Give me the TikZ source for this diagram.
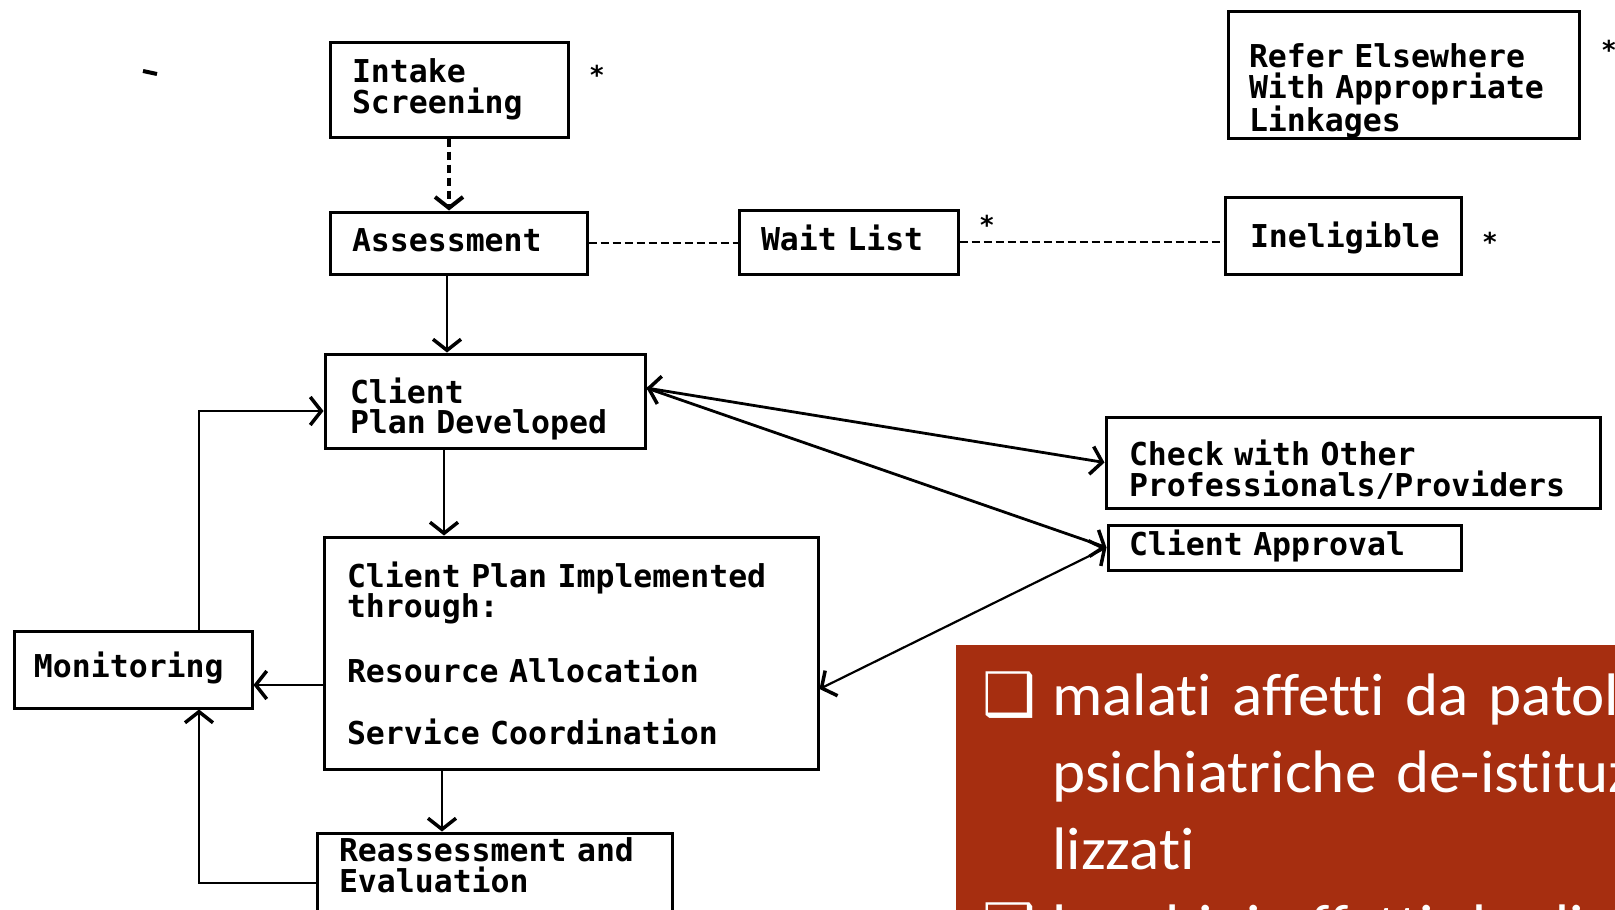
\documentclass[tikz,border=0pt]{standalone}
\usepackage{fontspec}
\usetikzlibrary{arrows.meta}
\newfontfamily\typefont{DejaVu Sans Mono}
\newfontfamily\slidefont[FakeStretch=1.05,Ligatures=NoCommon]{Carlito}
\newfontfamily\symfont{DejaVu Sans}
\definecolor{slidered}{RGB}{166,46,16}
\newcommand\printout{\typefont\bfseries\fontsize{31.5}{30.5}\selectfont}

\begin{document}
\begin{tikzpicture}[x=1pt, y=-1pt,
    box/.style={draw, line width=3pt, inner sep=0pt, align=left, font=\printout},
    oneline/.style={text height=24pt, text depth=8pt},
    link/.style={line width=2.2pt, -{Straight Barb[length=11pt,width=28pt,line width=3.5pt]}},
    twoway/.style={line width=2.8pt,
      {Straight Barb[length=11pt,width=28pt,line width=3.5pt]}-{Straight Barb[length=11pt,width=28pt,line width=3.5pt]}},
    waitline/.style={line width=2.4pt, dash pattern=on 8pt off 4pt},
    astmark/.style={inner sep=0pt, font=\typefont\bfseries\fontsize{26}{26}\selectfont},
    slidetxt/.style={text=white, inner sep=0pt, align=left, text width=900pt,
      font=\slidefont\fontsize{60}{77}\selectfont}]

  \clip (0,0) rectangle (1615,910);

  % The stray mark on the left.
  \draw[line width=4pt] (143,71) -- (157,74);

  % The intake and the assessment.
  \node[box, minimum width=238pt, minimum height=95pt, text width=194pt] (intake) at (449,89.5) {Intake\\Screening};
  \node[box, oneline, minimum width=257pt, minimum height=62pt, text width=213pt] (assess) at (458.5,243) {Assessment};

  % The side outcomes.
  \node[box, oneline, minimum width=219pt, minimum height=64pt, text width=175pt] (wait) at (848.5,242) {Wait List};
  \node[box, text height=24pt, text depth=0pt, minimum width=236pt, minimum height=77pt, text width=186pt] (inelig) at (1343,235.5) {Ineligible};
  \node[box, text height=56pt, minimum width=351pt, minimum height=124pt, text width=309pt] (refer) at (1403.5,75) {Refer Elsewhere\\With Appropriate\\Linkages};

  % The plan.
  \node[box, text height=42pt, minimum width=320pt, minimum height=94pt, text width=270pt] (cpd) at (485,401) {Client\\Plan Developed};
  \node[box, text height=40pt, minimum width=494pt, minimum height=91pt, text width=448pt] (check) at (1353,462.5) {Check with Other\\Professionals/Providers};
  \node[box, oneline, minimum width=353pt, minimum height=45pt, text width=311pt] (approval) at (1284.5,547.5) {Client Approval};
  \node[box, minimum width=494pt, minimum height=232pt, text width=448pt] (cpi) at (571,653) {Client Plan Implemented\\through:\\[31.5pt]Resource Allocation\\[31.5pt]Service Coordination};

  % The loop back.
  \node[box, oneline, minimum width=238pt, minimum height=77pt, text width=198pt] (mon) at (133,669.5) {Monitoring};
  \node[box, text depth=66pt, minimum width=355pt, minimum height=100pt, text width=311pt] (reassess) at (494.5,883) {Reassessment and\\Evaluation};

  % The asterisks.
  \node[astmark] (ast1) at (597,75) {*};
  \node[astmark] (ast2) at (987,225) {*};
  \node[astmark] (ast3) at (1490,242) {*};
  \node[astmark] (ast4) at (1609,50) {*};

  % Connectors.
  \draw[line width=3.5pt, dash pattern=on 8pt off 5pt, -{Straight Barb[length=11pt,width=28pt,line width=4pt]}] (intake.south) -- (intake.south |- assess.north);
  \draw[waitline] (assess.east) -- (assess.east -| wait.west);
  \draw[waitline] (wait.east) -- (wait.east -| inelig.west);
  \draw[link] ([xshift=-11.5pt]assess.south) -- ([xshift=-11.5pt]assess.south |- cpd.north);
  \draw[link] ([xshift=-41pt]cpd.south) -- ([xshift=-41pt]cpd.south |- cpi.north);
  \draw[link] ([xshift=-129pt]cpi.south) -- ([xshift=-129pt]cpi.south |- reassess.north);
  \draw[link] ([yshift=-32pt]cpi.west) -- ([yshift=-32pt]cpi.west -| mon.east);
  \draw[link] ([xshift=66pt]mon.north) |- ([yshift=-10pt]cpd.west);
  \draw[link] (reassess.west) -| ([xshift=66pt]mon.south);
  \draw[twoway] ([yshift=13pt]cpd.east) -- (check.west);
  \draw[link, line width=2.8pt] ([yshift=13pt]cpd.east) -- (approval.west);
  \draw[twoway, line width=2.2pt] (approval.west) -- ([yshift=-36pt]cpi.east);

  % The slide panel.
  \fill[slidered] (956,645) rectangle (1615,910);
  \node[slidetxt, anchor=base west] (items) at (982,715) {%
    \makebox[70pt][l]{\symfont ❑}malati affetti da patologie\\
    \hspace*{70pt}psichiatriche de-istituziona\\
    \hspace*{70pt}lizzati\\
    \makebox[70pt][l]{\symfont ❑}bambini affetti da disturbi};

\end{tikzpicture}
\end{document}
